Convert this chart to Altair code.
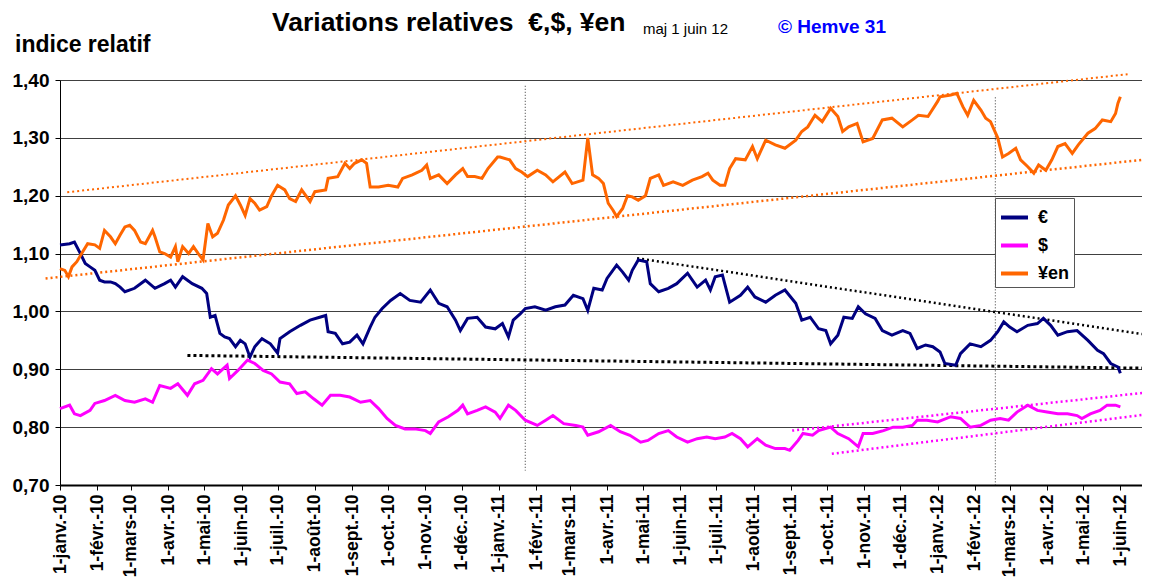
import altair as alt
import pandas as pd

ORIGIN = pd.Timestamp("2010-01-01")

# ---- series (day offset from 1 Jan 2010, relative index) ----
euro_days = [0, 8, 12, 17, 21, 25, 29, 33, 37, 42, 46, 50, 54, 62, 71, 79, 87, 92, 96, 102, 110, 118, 122, 125,
             129, 133, 137, 141, 146, 150, 154, 158, 162, 168, 175, 181, 183, 191, 200, 208, 216, 221, 223, 229,
             235, 241, 247, 252, 258, 262, 268, 275, 283, 291, 300, 308, 315, 322, 329, 333, 339, 347, 354, 362,
             368, 373, 377, 383, 387, 395, 404, 412, 420, 427, 435, 439, 444, 451, 455, 463, 468, 473, 476, 481,
             488, 491, 498, 506, 513, 522, 530, 537, 541, 545, 551, 557, 566, 572, 578, 587, 595, 603, 612, 617,
             624, 631, 637, 641, 647, 652, 659, 664, 670, 678, 684, 692, 701, 707, 713, 720, 726, 732, 736, 745,
             749, 757, 766, 774, 780, 785, 790, 796, 805, 813, 818, 824, 830, 838, 846, 855, 863, 868, 874, 880, 882]
euro_vals = [1.115, 1.117, 1.12, 1.10, 1.083, 1.077, 1.071, 1.054, 1.051, 1.051, 1.048, 1.042, 1.034, 1.04, 1.054,
             1.04, 1.048, 1.054, 1.042, 1.06, 1.048, 1.04, 1.031, 0.99, 0.993, 0.962, 0.956, 0.953, 0.939, 0.95,
             0.944, 0.921, 0.939, 0.953, 0.944, 0.928, 0.953, 0.965, 0.976, 0.985, 0.99, 0.993, 0.965, 0.962,
             0.944, 0.947, 0.959, 0.944, 0.973, 0.99, 1.005, 1.019, 1.031, 1.019, 1.016, 1.037, 1.014, 1.008,
             0.985, 0.967, 0.988, 0.99, 0.973, 0.97, 0.979, 0.956, 0.985, 0.996, 1.005, 1.008, 1.002, 1.008,
             1.011, 1.028, 1.022, 1.002, 1.04, 1.037, 1.057, 1.08, 1.068, 1.054, 1.071, 1.089, 1.086, 1.048,
             1.034, 1.04, 1.048, 1.066, 1.042, 1.054, 1.037, 1.06, 1.063, 1.016, 1.028, 1.042, 1.025, 1.016,
             1.028, 1.037, 1.014, 0.985, 0.99, 0.97, 0.967, 0.944, 0.959, 0.99, 0.988, 1.008, 0.996, 0.988,
             0.967, 0.959, 0.967, 0.962, 0.936, 0.942, 0.939, 0.93, 0.91, 0.907, 0.927, 0.944, 0.939, 0.95,
             0.965, 0.982, 0.973, 0.965, 0.976, 0.979, 0.988, 0.976, 0.959, 0.965, 0.967, 0.95, 0.933, 0.927,
             0.91, 0.904, 0.893]

dollar_days = [0, 8, 12, 17, 25, 29, 37, 46, 54, 62, 71, 77, 83, 92, 98, 106, 112, 119, 126, 131, 139, 141, 148,
               156, 162, 169, 176, 183, 191, 197, 204, 211, 218, 225, 233, 241, 250, 258, 265, 272, 279, 287, 295,
               304, 308, 315, 323, 331, 335, 339, 347, 354, 362, 366, 373, 379, 387, 397, 404, 410, 419, 429, 435,
               439, 448, 458, 466, 474, 483, 489, 498, 506, 513, 522, 530, 538, 545, 553, 559, 566, 572, 580, 587,
               595, 603, 607, 614, 618, 626, 631, 641, 647, 656, 664, 668, 676, 685, 693, 701, 709, 713, 721, 730,
               741, 749, 757, 766, 774, 782, 789, 796, 805, 813, 821, 830, 838, 846, 850, 857, 865, 871, 878, 882]
dollar_vals = [0.832, 0.838, 0.823, 0.82, 0.829, 0.841, 0.846, 0.855, 0.846, 0.843, 0.849, 0.843, 0.872, 0.867,
               0.875, 0.855, 0.875, 0.881, 0.901, 0.892, 0.907, 0.884, 0.898, 0.916, 0.91, 0.898, 0.892, 0.878,
               0.875, 0.858, 0.861, 0.849, 0.838, 0.855, 0.855, 0.852, 0.843, 0.846, 0.832, 0.815, 0.803, 0.797,
               0.797, 0.794, 0.789, 0.809, 0.818, 0.829, 0.838, 0.823, 0.829, 0.835, 0.826, 0.815, 0.838, 0.829,
               0.812, 0.803, 0.812, 0.82, 0.806, 0.803, 0.80, 0.786, 0.792, 0.803, 0.792, 0.786, 0.774, 0.777,
               0.789, 0.794, 0.783, 0.774, 0.78, 0.783, 0.78, 0.783, 0.789, 0.78, 0.766, 0.78, 0.769, 0.763, 0.763,
               0.76, 0.777, 0.789, 0.786, 0.794, 0.80, 0.789, 0.78, 0.766, 0.789, 0.789, 0.794, 0.80, 0.80, 0.803,
               0.812, 0.812, 0.809, 0.818, 0.815, 0.80, 0.803, 0.812, 0.815, 0.812, 0.826, 0.838, 0.829, 0.826,
               0.823, 0.823, 0.82, 0.815, 0.823, 0.829, 0.838, 0.838, 0.835]

yen_days = [0, 4, 7, 10, 14, 18, 23, 29, 33, 37, 42, 46, 50, 54, 58, 62, 67, 71, 77, 79, 83, 87, 92, 96, 98, 102,
            107, 111, 115, 119, 123, 127, 131, 136, 140, 146, 150, 154, 158, 162, 166, 172, 176, 181, 187, 191,
            196, 201, 208, 212, 221, 223, 231, 237, 241, 245, 251, 255, 258, 265, 273, 281, 285, 293, 301, 305,
            308, 315, 322, 329, 335, 339, 345, 351, 356, 364, 366, 374, 379, 384, 389, 397, 404, 410, 420, 426,
            435, 439, 443, 448, 452, 456, 460, 463, 468, 472, 476, 481, 487, 491, 498, 502, 510, 518, 526, 534,
            539, 543, 549, 553, 557, 562, 570, 576, 580, 587, 595, 603, 612, 617, 622, 628, 634, 641, 647, 651,
            656, 663, 668, 676, 684, 692, 701, 709, 714, 722, 730, 732, 741, 746, 751, 755, 760, 766, 770, 774,
            780, 784, 789, 795, 799, 805, 810, 814, 820, 825, 830, 836, 842, 847, 855, 861, 867, 874, 878, 880, 882]
yen_vals = [1.074, 1.071, 1.06, 1.077, 1.086, 1.10, 1.117, 1.115, 1.109, 1.14, 1.129, 1.117, 1.132, 1.146, 1.149,
            1.14, 1.12, 1.117, 1.14, 1.129, 1.103, 1.10, 1.094, 1.112, 1.086, 1.112, 1.10, 1.112, 1.10, 1.089,
            1.152, 1.129, 1.135, 1.158, 1.184, 1.20, 1.184, 1.166, 1.195, 1.187, 1.175, 1.181, 1.20, 1.218, 1.21,
            1.195, 1.19, 1.21, 1.19, 1.207, 1.21, 1.23, 1.233, 1.256, 1.247, 1.256, 1.262, 1.256, 1.215, 1.215,
            1.218, 1.215, 1.23, 1.236, 1.244, 1.253, 1.23, 1.236, 1.221, 1.236, 1.247, 1.233, 1.233, 1.23, 1.247,
            1.267, 1.267, 1.262, 1.247, 1.241, 1.233, 1.244, 1.236, 1.224, 1.241, 1.221, 1.227, 1.30, 1.236,
            1.23, 1.221, 1.187, 1.175, 1.164, 1.178, 1.20, 1.198, 1.192, 1.20, 1.23, 1.236, 1.218, 1.224, 1.218,
            1.227, 1.233, 1.239, 1.227, 1.218, 1.218, 1.247, 1.264, 1.262, 1.285, 1.264, 1.296, 1.288, 1.282,
            1.296, 1.311, 1.319, 1.339, 1.328, 1.351, 1.337, 1.311, 1.319, 1.325, 1.293, 1.299, 1.331, 1.334,
            1.319, 1.331, 1.339, 1.337, 1.363, 1.371, 1.374, 1.377, 1.354, 1.339, 1.365, 1.348, 1.334, 1.328,
            1.30, 1.267, 1.273, 1.282, 1.262, 1.25, 1.239, 1.253, 1.244, 1.262, 1.285, 1.29, 1.273, 1.288, 1.308,
            1.316, 1.331, 1.328, 1.342, 1.36, 1.371]

series_names = ["€", "$", "¥en"]
series_colors = ["#000080", "#FF00FF", "#FF6600"]

# ---- trend lines (start day, start value, end day, end value) ----
yen_up_days, yen_up_vals = [6, 888], [1.206, 1.41]
yen_low_days, yen_low_vals = [-12, 900], [1.057, 1.262]
euro_up_days, euro_up_vals = [480, 900], [1.092, 0.961]
euro_low_days, euro_low_vals = [106, 900], [0.924, 0.902]
usd_up_days, usd_up_vals = [609, 900], [0.794, 0.859]
usd_low_days, usd_low_vals = [642, 900], [0.754, 0.821]

# ---- vertical markers ----
vline_days = [387, 778]
vline_top = [1.39, 1.37]
vline_bottom = [0.725, 0.70]

MONTHS = ["janv.", "févr.", "mars", "avr.", "mai", "juin", "juil.", "août", "sept.", "oct.", "nov.", "déc."]

TITLE = "Variations relatives\u00a0\u00a0€,$, ¥en"


def to_dates(days):
    return [ORIGIN + pd.Timedelta(days=d) for d in days]


frames = []
for name, days, vals in [("€", euro_days, euro_vals), ("$", dollar_days, dollar_vals), ("¥en", yen_days, yen_vals)]:
    frames.append(pd.DataFrame({"date": to_dates(days), "valeur": vals, "devise": name}))
series_df = pd.concat(frames, ignore_index=True)

FONT = "Liberation Sans"

month_expr = "[" + ",".join("'%s'" % m for m in MONTHS) + "]"
x_axis = alt.Axis(
    tickCount={"interval": "month", "step": 1},
    labelExpr="'1-' + " + month_expr + "[month(datum.value)] + '-' + timeFormat(datum.value, '%y')",
    labelAngle=-90, labelFontSize=17.5, labelFontWeight="bold", labelFont=FONT, labelColor="black",
    labelPadding=4, tickSize=5, tickColor="black", domainColor="black", domainWidth=2,
    grid=False, title=None, labelOverlap=False, labelBound=False, labelFlush=False,
)
y_axis = alt.Axis(
    values=[0.7, 0.8, 0.9, 1.0, 1.1, 1.2, 1.3, 1.4],
    labelExpr="replace(format(datum.value, '.2f'), '.', ',')",
    labelFontSize=19, labelFontWeight="bold", labelFont=FONT, labelColor="black",
    labelPadding=6, tickSize=5, tickColor="black", domainColor="black",
    grid=True, gridColor="#404040", gridWidth=1, title=None,
)
x_scale = alt.Scale(domain=[alt.DateTime(year=2010, month=1, date=1), alt.DateTime(year=2012, month=6, date=19)])
y_scale = alt.Scale(domain=[0.7, 1.4], nice=False, zero=False)

X = alt.X("date:T", scale=x_scale, axis=x_axis)
Y = alt.Y("valeur:Q", scale=y_scale, axis=y_axis)


def trend(days, vals, color, width, dash):
    df = pd.DataFrame({"date": to_dates(days), "valeur": vals})
    return alt.Chart(df).mark_line(color=color, strokeWidth=width, strokeDash=dash).encode(x=X, y=Y)


vdf = pd.DataFrame({"date": to_dates(vline_days), "valeur": vline_top, "bas": vline_bottom})
vlines = alt.Chart(vdf).mark_rule(color="#333333", strokeWidth=1, strokeDash=[1, 2]).encode(
    x=X, y=Y, y2="bas:Q")

lines = alt.Chart(series_df).mark_line(strokeWidth=3).encode(
    x=X, y=Y,
    color=alt.Color("devise:N", scale=alt.Scale(domain=series_names, range=series_colors),
                    legend=alt.Legend(title=None, orient="none", legendX=935, legendY=118,
                                      symbolType="stroke", symbolStrokeWidth=4, symbolSize=729,
                                      labelFontSize=18, labelFontWeight="bold", labelFont=FONT,
                                      labelColor="black", labelOffset=8, padding=4, rowPadding=3,
                                      fillColor="white", strokeColor="#555555")),
    order=alt.Order("devise:N"),
)


def label(txt, x, y, size, weight="bold", color="black"):
    return alt.Chart(pd.DataFrame({"t": [txt]})).mark_text(
        align="left", baseline="middle", fontSize=size, fontWeight=weight, font=FONT, color=color
    ).encode(x=alt.value(x), y=alt.value(y), text="t:N")


chart = alt.layer(
    vlines,
    trend(yen_up_days, yen_up_vals, "#FF6600", 2, [2, 3]),
    trend(yen_low_days, yen_low_vals, "#FF6600", 2.5, [2, 3]),
    trend(euro_up_days, euro_up_vals, "black", 2.5, [2, 3]),
    trend(euro_low_days, euro_low_vals, "black", 3, [3, 3]),
    trend(usd_up_days, usd_up_vals, "#FF00FF", 2.5, [2, 3]),
    trend(usd_low_days, usd_low_vals, "#FF00FF", 2.5, [2, 3]),
    lines,
    label(TITLE, 212, -57, 26.5),
    label("maj 1 juin 12", 583, -51, 15, weight="normal"),
    label("© Hemve 31", 718, -53, 19, color="#0000FF"),
    label("indice relatif", -45, -35, 23),
).properties(
    width=1082, height=405, autosize="none",
    padding={"left": 52, "top": 72, "right": 0, "bottom": 95},
).configure_view(stroke=None).configure(background="white")

chart.save("out.html", embed_options={"renderer": "svg", "actions": False})
